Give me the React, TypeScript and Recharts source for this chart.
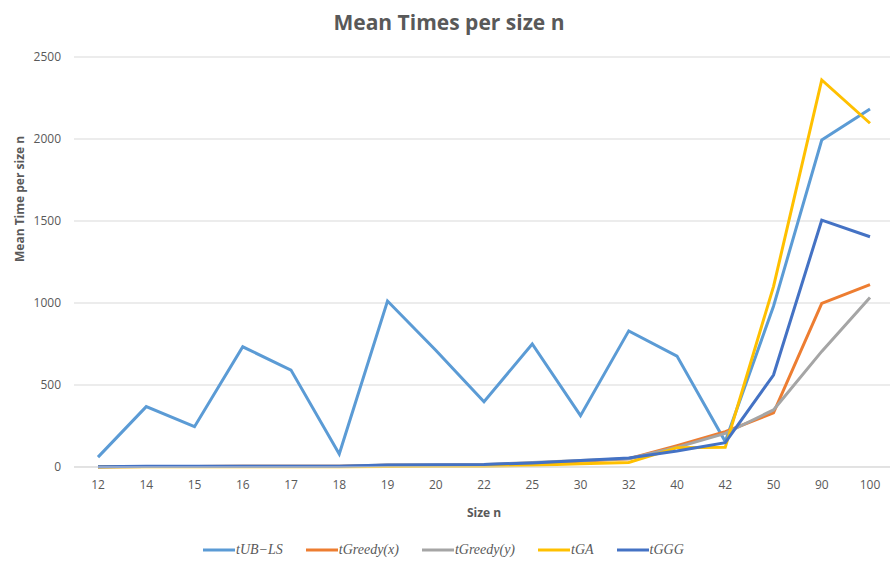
import React from 'react';
import { LineChart, Line, XAxis, YAxis, CartesianGrid } from 'recharts';

const categories = ['12', '14', '15', '16', '17', '18', '19', '20', '22', '25', '30', '32', '40', '42', '50', '90', '100'];
const tUBLS = [60, 368, 246, 733, 591, 79, 1012, 712, 398, 750, 313, 830, 676, 155, 980, 1994, 2183];
const tGreedyX = [1, 3, 3, 4, 5, 5, 10, 10, 12, 20, 35, 50, 130, 215, 330, 998, 1112];
const tGreedyY = [1, 3, 3, 4, 5, 5, 12, 12, 15, 28, 40, 50, 120, 205, 348, 705, 1033];
const tGA = [0, 1, 1, 1, 1, 2, 3, 4, 5, 10, 20, 28, 118, 120, 1100, 2360, 2096];
const tGGG = [1, 4, 4, 5, 5, 5, 12, 14, 16, 25, 40, 55, 97, 148, 561, 1505, 1404];
const yTicks = [0, 500, 1000, 1500, 2000, 2500];

const seriesNames = ['tUB\u2212LS', 'tGreedy(x)', 'tGreedy(y)', 'tGA', 'tGGG'];
const seriesKeys = ['ub', 'gx', 'gy', 'ga', 'ggg'];
const seriesColors = ['#5B9BD5', '#ED7D31', '#A5A5A5', '#FFC000', '#4472C4'];

const data = categories.map((c, i) => ({
  n: c,
  ub: tUBLS[i],
  gx: tGreedyX[i],
  gy: tGreedyY[i],
  ga: tGA[i],
  ggg: tGGG[i],
}));

const font = 'Open Sans, sans-serif';

export default function App() {
  return (
    <div
      style={{
        position: 'absolute',
        left: 0,
        top: 0,
        width: 890,
        height: 569,
        overflow: 'hidden',
        background: '#ffffff',
        fontFamily: font,
      }}
    >
      <div
        style={{
          position: 'absolute',
          top: 7,
          left: 0,
          width: 898,
          textAlign: 'center',
          fontSize: 21,
          fontWeight: 'bold',
          color: '#595959',
          lineHeight: '30px',
        }}
      >
        Mean Times per size n
      </div>
      <LineChart
        width={904}
        height={569}
        data={data}
        margin={{ top: 57, right: 10, left: 0, bottom: 52 }}
      >
        <CartesianGrid horizontal={true} vertical={false} stroke="#D9D9D9" strokeWidth={1} />
        <XAxis
          dataKey="n"
          height={50}
          padding={{ left: 24, right: 24 }}
          axisLine={{ stroke: '#D9D9D9', strokeWidth: 1 }}
          tickLine={false}
          tickMargin={7}
          tick={{ fill: '#595959', fontSize: 12, fontFamily: font }}
          interval={0}
          label={{
            value: 'Size n',
            position: 'insideBottom',
            offset: 0,
            fill: '#595959',
            fontSize: 12,
            fontWeight: 'bold',
            fontFamily: font,
          }}
        />
        <YAxis
          width={74}
          domain={[0, 2500]}
          ticks={yTicks}
          axisLine={false}
          tickLine={false}
          tickMargin={7}
          tick={{ fill: '#595959', fontSize: 12, fontFamily: font }}
          label={{
            value: 'Mean Time per size n',
            angle: -90,
            position: 'insideLeft',
            offset: 20,
            fill: '#595959',
            fontSize: 12,
            fontWeight: 'bold',
            fontFamily: font,
          }}
        />
        {seriesKeys.map((k, i) => (
          <Line
            key={k}
            type="linear"
            dataKey={k}
            name={seriesNames[i]}
            stroke={seriesColors[i]}
            strokeWidth={3}
            dot={false}
            activeDot={false}
            isAnimationActive={false}
          />
        ))}
      </LineChart>
      <div
        style={{
          position: 'absolute',
          top: 540,
          left: 203,
          display: 'flex',
          alignItems: 'center',
          gap: 23,
          height: 20,
        }}
      >
        {seriesNames.map((name, i) => (
          <div key={name} style={{ display: 'flex', alignItems: 'center' }}>
            <svg width={32} height={10} style={{ display: 'block' }}>
              <line x1={0} y1={5} x2={32} y2={5} stroke={seriesColors[i]} strokeWidth={3} />
            </svg>
            <span
              style={{
                fontFamily: 'Liberation Serif, serif',
                fontStyle: 'italic',
                fontSize: 14,
                color: '#595959',
                marginLeft: 1,
              }}
            >
              {name}
            </span>
          </div>
        ))}
      </div>
    </div>
  );
}
